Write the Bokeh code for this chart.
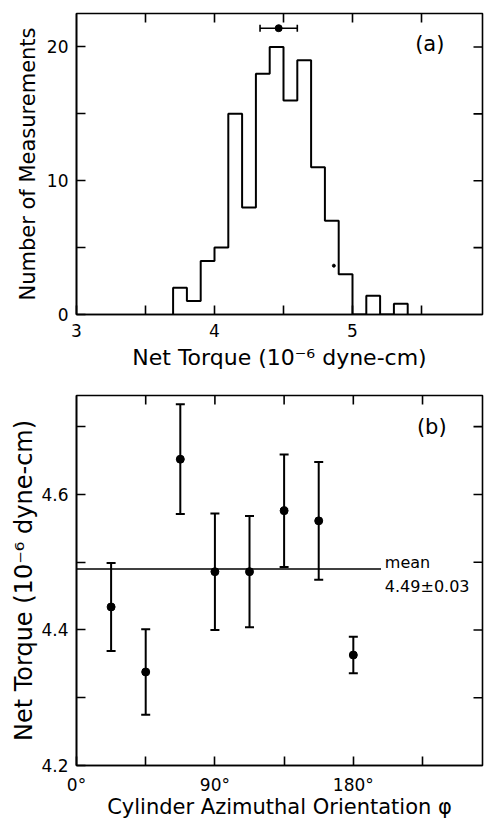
from bokeh.plotting import figure
from bokeh.layouts import column
from bokeh.models import (FixedTicker, Whisker, TeeHead,
                          ColumnDataSource, Label, Range1d)
from bokeh.embed import file_html
from bokeh.resources import INLINE

FONT = "DejaVu Sans"

# ---------------- data: panel (a) ----------------
bin_edges = [3.7, 3.8, 3.9, 4.0, 4.1, 4.2, 4.3, 4.4, 4.5, 4.6, 4.7, 4.8,
             4.9, 5.0, 5.1, 5.2, 5.3, 5.4]
bin_counts = [2, 1, 4, 5, 15, 8, 18, 20, 16, 19, 11, 7, 3, 0, 1.4, 0, 0.8]
hist_mean = 4.465
hist_mean_err = 0.135
hist_mean_height = 21.4
stray_x = [4.865]
stray_y = [3.65]

# ---------------- data: panel (b) ----------------
phi_deg = [22.5, 45, 67.5, 90, 112.5, 135, 157.5, 180]
torque = [4.434, 4.338, 4.652, 4.486, 4.486, 4.576, 4.561, 4.363]
torque_err = [0.065, 0.063, 0.081, 0.086, 0.082, 0.083, 0.087, 0.027]
mean_torque = 4.49
mean_err = 0.03
mean_line_end = 198

# tick definitions
a_x_major = [3, 4, 5]
a_x_minor = [3.5, 4.5, 5.5]
a_y_major = [0, 10, 20]
a_y_minor = [5, 15]
b_x_major = [0, 90, 180]
b_x_minor = [45, 135, 225]
b_x_labels = {0: "0°", 90: "90°", 180: "180°"}
b_y_major = [4.2, 4.4, 4.6]
b_y_minor = [4.3, 4.5, 4.7]

A_X = (3, 5.942)
A_Y = (0, 22.5)
B_X = (0, 264)
B_Y = (4.2, 4.746)

LW = 1.6
TICK = 9


def style_axis(ax, major, minor, standoff, label, label_size, label_standoff):
    ax.ticker = FixedTicker(ticks=major, minor_ticks=minor)
    ax.axis_line_color = "black"
    ax.axis_line_width = LW
    ax.major_tick_in = TICK
    ax.major_tick_out = 0
    ax.minor_tick_in = TICK
    ax.minor_tick_out = 0
    ax.major_tick_line_color = "black"
    ax.minor_tick_line_color = "black"
    ax.major_tick_line_width = LW
    ax.minor_tick_line_width = LW
    ax.major_label_text_font = FONT
    ax.major_label_text_color = "black"
    ax.major_label_text_font_size = "17px"
    ax.major_label_standoff = standoff
    ax.axis_label = label
    ax.axis_label_text_font = FONT
    ax.axis_label_text_font_style = "normal"
    ax.axis_label_text_color = "black"
    ax.axis_label_text_font_size = label_size
    ax.axis_label_standoff = label_standoff


def base_fig(h, xr, yr, top, bottom):
    p = figure(width=490, height=h, x_range=Range1d(*xr), y_range=Range1d(*yr),
               output_backend="svg", toolbar_location=None,
               min_border_left=76, min_border_right=8,
               min_border_top=top, min_border_bottom=bottom)
    p.xgrid.visible = False
    p.ygrid.visible = False
    p.outline_line_color = "black"
    p.outline_line_width = LW
    p.background_fill_color = "white"
    p.border_fill_color = "white"
    return p


def frame_ticks(p, xr, yr, xt, yt):
    # inward ticks on the top and right edges of the frame
    p.ray(x=xt, y=[yr[1]] * len(xt), length=TICK, length_units="screen",
          angle=-90, angle_units="deg", line_color="black", line_width=LW)
    p.ray(x=[xr[1]] * len(yt), y=yt, length=TICK, length_units="screen",
          angle=180, angle_units="deg", line_color="black", line_width=LW)


def text(p, x, y, s, size, **kw):
    p.add_layout(Label(x=x, y=y, text=s, text_font=FONT, text_font_size=size,
                       text_color="black", **kw))


# ================= panel (a) =================
pa = base_fig(381, A_X, A_Y, 13, 67)
style_axis(pa.xaxis[0], a_x_major, a_x_minor, 9,
           "Net Torque (10⁻⁶ dyne-cm)", "22px", 5)
style_axis(pa.yaxis[0], a_y_major, a_y_minor, 8,
           "Number of Measurements", "21px", 4)
frame_ticks(pa, A_X, A_Y, a_x_major[1:] + a_x_minor, a_y_major[1:] + a_y_minor)

step_x = [bin_edges[0]] + bin_edges
step_y = [0] + bin_counts + [0]
pa.step(x=step_x, y=step_y, mode="after", line_color="black", line_width=2)

msrc = ColumnDataSource(dict(x=[hist_mean], y=[hist_mean_height],
                             lo=[hist_mean - hist_mean_err],
                             hi=[hist_mean + hist_mean_err]))
pa.add_layout(Whisker(base="y", lower="lo", upper="hi", dimension="width",
                      source=msrc, line_color="black", line_width=1.6,
                      upper_head=TeeHead(size=7, line_width=1.6, line_color="black"),
                      lower_head=TeeHead(size=7, line_width=1.6, line_color="black")))
pa.scatter("x", "y", source=msrc, size=7, color="black")
pa.scatter(stray_x, stray_y, size=3, color="black")

text(pa, 5.56, 20.2, "(a)", "21px", text_align="center", text_baseline="middle")

# ================= panel (b) =================
pb = base_fig(441, B_X, B_Y, 14, 57)
style_axis(pb.xaxis[0], b_x_major, b_x_minor, 9,
           "Cylinder Azimuthal Orientation φ", "21px", -3)
style_axis(pb.yaxis[0], b_y_major, b_y_minor, 8,
           "Net Torque (10⁻⁶ dyne-cm)", "24px", 0)
pb.xaxis[0].major_label_overrides = b_x_labels
frame_ticks(pb, B_X, B_Y, b_x_major[1:] + b_x_minor, b_y_major[1:] + b_y_minor)

pb.line(x=[0, mean_line_end], y=[mean_torque, mean_torque],
        line_color="black", line_width=1.6)

src = ColumnDataSource(dict(
    phi=phi_deg, t=torque,
    lo=[t - e for t, e in zip(torque, torque_err)],
    hi=[t + e for t, e in zip(torque, torque_err)]))
pb.add_layout(Whisker(base="phi", lower="lo", upper="hi", source=src,
                      line_color="black", line_width=2,
                      upper_head=TeeHead(size=9, line_width=2, line_color="black"),
                      lower_head=TeeHead(size=9, line_width=2, line_color="black")))
pb.scatter("phi", "t", source=src, size=8, color="black")

text(pb, 200.5, 4.499, "mean", "16px", text_baseline="alphabetic")
text(pb, 200.5, 4.4636, f"{mean_torque:.2f}±{mean_err:.2f}", "16px",
     text_baseline="alphabetic")
text(pb, 231, 4.699, "(b)", "21px", text_align="center", text_baseline="middle")

layout = column(pa, pb, spacing=0)
open("out.html", "w").write(file_html(layout, INLINE))
